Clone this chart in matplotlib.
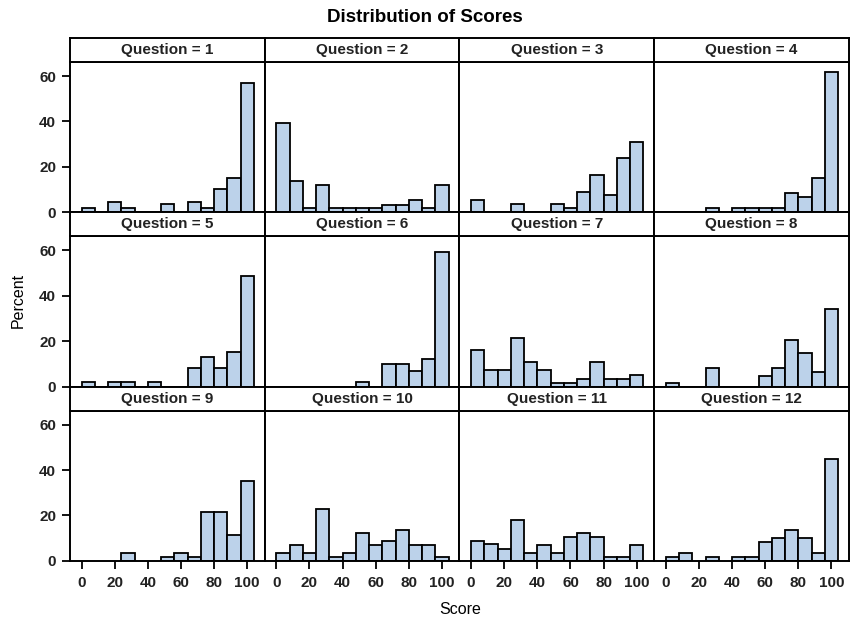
import numpy as np
import matplotlib
matplotlib.use("Agg")
import matplotlib.pyplot as plt

plt.rcParams['font.family'] = ['Liberation Sans', 'DejaVu Sans']

# bin midpoints of the score histogram (width 8)
bin_mids = [4, 12, 20, 28, 36, 44, 52, 60, 68, 76, 84, 92, 100]
bin_width = 8

questions = [1, 2, 3, 4, 5, 6, 7, 8, 9, 10, 11, 12]

q1 = [1.9, 0, 4.7, 1.9, 0, 0, 3.7, 0, 4.7, 1.9, 10.4, 15.1, 57.0]
q2 = [39.3, 13.8, 1.9, 12.0, 1.9, 1.9, 1.9, 1.9, 3.4, 3.4, 5.3, 1.9, 12.0]
q3 = [5.3, 0, 0, 3.7, 0, 0, 3.6, 1.8, 9.0, 16.4, 7.4, 23.7, 30.8]
q4 = [0, 0, 0, 1.9, 0, 1.9, 1.9, 1.9, 1.9, 8.3, 6.7, 15.1, 61.6]
q5 = [1.9, 0, 1.9, 1.9, 0, 1.9, 0, 0, 8.3, 13.0, 8.3, 15.1, 48.9]
q6 = [0, 0, 0, 0, 0, 0, 1.9, 0, 10.0, 10.0, 6.7, 12.0, 59.3]
q7 = [16.3, 7.1, 7.1, 21.5, 10.8, 7.1, 1.8, 1.8, 3.4, 10.8, 3.4, 3.4, 5.2]
q8 = [1.8, 0, 0, 8.3, 0, 0, 0, 4.6, 8.3, 20.4, 15.0, 6.4, 34.0]
q9 = [0, 0, 0, 3.4, 0, 0, 1.7, 3.4, 1.7, 21.5, 21.5, 11.3, 35.0]
q10 = [3.4, 7.1, 3.4, 22.8, 1.7, 3.4, 12.5, 7.1, 8.8, 13.7, 7.1, 7.1, 1.7]
q11 = [8.8, 7.4, 5.1, 18.0, 3.4, 7.1, 3.4, 10.5, 12.5, 10.5, 1.7, 1.7, 7.1]
q12 = [1.7, 3.4, 0, 1.7, 0, 1.7, 1.7, 8.3, 10.0, 13.7, 10.0, 3.4, 44.7]

percents = [q1, q2, q3, q4, q5, q6, q7, q8, q9, q10, q11, q12]

x_ticks = [0, 20, 40, 60, 80, 100]
y_ticks = [0, 20, 40, 60]

W, H = 850, 623
fig = plt.figure(figsize=(W / 100, H / 100), dpi=100)

left = 70
col_w = 194.75
top = 38
row_h = 174.3
strip_h = 24
fill = '#bcd2ea'

for i, (q, vals) in enumerate(zip(questions, percents)):
    r, c = divmod(i, 4)
    x0 = left + c * col_w
    y_top = top + r * row_h
    y_bot = y_top + row_h

    ax = fig.add_axes([x0 / W, 1 - y_bot / H, col_w / W, (row_h - strip_h) / H])
    mids = [m for m, v in zip(bin_mids, vals) if v > 0]
    hts = [v for v in vals if v > 0]
    ax.bar(mids, hts, width=bin_width, color=fill, edgecolor='black', linewidth=1.3)
    ax.set_xlim(-7, 110.6)
    ax.set_ylim(0, 66.2)
    ax.set_xticks(x_ticks)
    ax.set_yticks(y_ticks)
    for s in ax.spines.values():
        s.set_linewidth(1.4)
    ax.tick_params(axis='both', labelsize=11, width=1.3, direction='out')
    ax.tick_params(axis='x', length=6, pad=5)
    ax.tick_params(axis='y', length=6, pad=4)
    for lab in ax.get_xticklabels() + ax.get_yticklabels():
        lab.set_fontweight('bold')
        lab.set_color('#222222')
    if c != 0:
        ax.tick_params(axis='y', left=False, labelleft=False)
    if r != 2:
        ax.tick_params(axis='x', bottom=False, labelbottom=False)

    sx = fig.add_axes([x0 / W, 1 - (y_top + strip_h) / H, col_w / W, strip_h / H])
    sx.set_xticks([])
    sx.set_yticks([])
    for s in sx.spines.values():
        s.set_linewidth(1.4)
    sx.text(0.5, 0.5, 'Question = %d' % q, ha='center', va='center',
            fontsize=11, fontweight='bold', color='#222222', transform=sx.transAxes)

fig.text(424.5 / W, 1 - 18 / H, 'Distribution of Scores', ha='center', va='center',
         fontsize=13.5, fontweight='bold')
fig.text(18 / W, 1 - 300 / H, 'Percent', ha='center', va='center', rotation=90, fontsize=11.5)
fig.text(460 / W, 1 - 609 / H, 'Score', ha='center', va='center', fontsize=11.5)

fig.savefig('out.png', dpi=100)
